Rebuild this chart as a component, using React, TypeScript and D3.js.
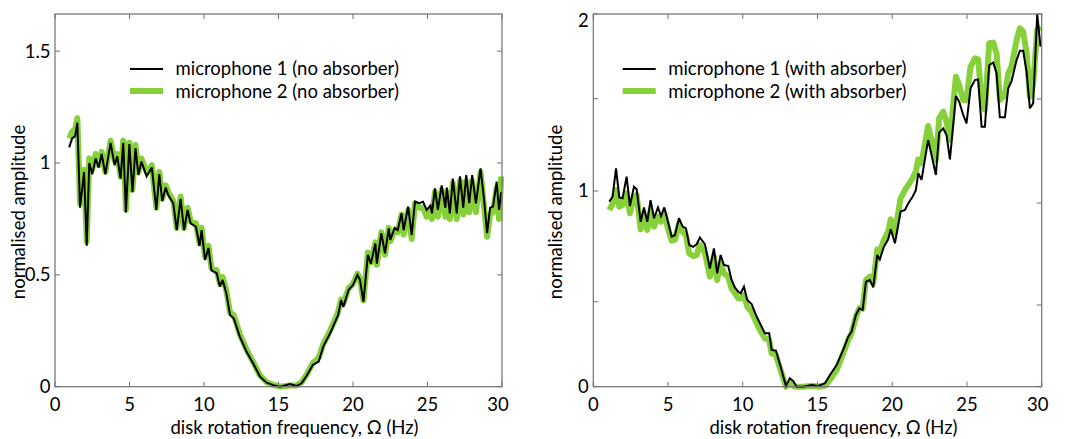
import React from 'react';
import * as d3 from 'd3';

// ---------- data ----------
const X_TICKS = [0, 5, 10, 15, 20, 25, 30];
const X_LABEL = 'disk rotation frequency, Ω (Hz)';
const Y_LABEL = 'normalised amplitude';

const Y_TICKS_L = [0, 0.5, 1, 1.5];
const Y_TICK_LABELS_L = ['0', '0.5', '1', '1.5'];
const Y_TICKS_R = [0, 0.5, 1, 1.5, 2];
const Y_TICK_LABELS_R = ['0', '', '1', '', '2'];

const LEGEND_L = ['microphone 1 (no absorber)', 'microphone 2 (no absorber)'];
const LEGEND_R = ['microphone 1 (with absorber)', 'microphone 2 (with absorber)'];

const FREQ_L = [
  0.95, 1.15, 1.35, 1.5, 1.68, 1.95, 2.13, 2.3, 2.5, 2.73,
  2.93, 3.13, 3.38, 3.73, 4.0, 4.18, 4.4, 4.58, 4.76, 4.99,
  5.2, 5.4, 5.6, 5.8, 6.15, 6.5, 6.8, 7.0, 7.2, 7.43,
  7.6, 7.94, 8.17, 8.43, 8.66, 8.9, 9.1, 9.46, 9.7, 9.84,
  10.07, 10.3, 10.5, 10.85, 11.07, 11.25, 11.5, 11.75, 12.0, 12.4,
  12.86, 13.3, 13.76, 14.2, 14.65, 15.1, 15.77, 16.2, 16.55, 16.9,
  17.3, 17.7, 18.0, 18.46, 18.8, 19.0, 19.2, 19.35, 19.7, 20.0,
  20.3, 20.47, 20.7, 21.0, 21.2, 21.5, 21.6, 21.9, 22.15, 22.4,
  22.5, 22.8, 23.0, 23.26, 23.4, 23.7, 23.94, 24.16, 24.45, 24.7,
  24.94, 25.2, 25.3, 25.5, 25.7, 25.95, 26.2, 26.3, 26.5, 26.7,
  26.96, 27.18, 27.4, 27.6, 27.8, 28.0, 28.25, 28.56, 28.8, 29.0,
  29.2, 29.4, 29.64, 29.8, 29.95,
];
const MIC1_NO = [
  1.07, 1.11, 1.12, 1.18, 0.80, 0.96, 0.63, 1.00, 0.95, 1.02,
  0.98, 1.04, 0.95, 1.09, 0.99, 1.03, 0.93, 1.09, 0.78, 1.085,
  0.87, 1.066, 0.946, 1.006, 0.94, 0.98, 0.79, 0.95, 0.83, 0.89,
  0.857, 0.82, 0.70, 0.84, 0.70, 0.79, 0.73, 0.715, 0.63, 0.70,
  0.566, 0.62, 0.52, 0.507, 0.447, 0.477, 0.417, 0.32, 0.305, 0.224,
  0.156, 0.104, 0.045, 0.018, 0.007, 0.0, 0.012, 0.003, 0.015, 0.05,
  0.097, 0.112, 0.179, 0.238, 0.29, 0.32, 0.387, 0.357, 0.432, 0.455,
  0.50, 0.477, 0.38, 0.589, 0.55, 0.64, 0.55, 0.686, 0.596, 0.708,
  0.656, 0.71, 0.70, 0.775, 0.70, 0.805, 0.678, 0.827, 0.82, 0.827,
  0.79, 0.81, 0.775, 0.887, 0.79, 0.90, 0.80, 0.89, 0.775, 0.93,
  0.775, 0.94, 0.80, 0.946, 0.82, 0.946, 0.82, 0.976, 0.835, 0.686,
  0.80, 0.805, 0.917, 0.79, 0.87,
];
const MIC2_NO = [
  1.11, 1.14, 1.15, 1.20, 0.82, 0.97, 0.65, 1.02, 0.97, 1.04,
  0.99, 1.05, 0.96, 1.10, 1.01, 1.04, 0.94, 1.10, 0.79, 1.09,
  0.88, 1.08, 0.96, 1.02, 0.96, 0.99, 0.80, 0.96, 0.84, 0.90,
  0.87, 0.83, 0.71, 0.85, 0.71, 0.80, 0.74, 0.73, 0.64, 0.71,
  0.58, 0.63, 0.53, 0.52, 0.46, 0.49, 0.43, 0.33, 0.32, 0.235,
  0.165, 0.11, 0.05, 0.02, 0.008, 0.0, 0.005, 0.005, 0.02, 0.055,
  0.105, 0.13, 0.19, 0.25, 0.30, 0.335, 0.39, 0.37, 0.44, 0.46,
  0.505, 0.48, 0.385, 0.60, 0.555, 0.645, 0.545, 0.69, 0.59, 0.71,
  0.65, 0.70, 0.69, 0.77, 0.68, 0.79, 0.66, 0.82, 0.80, 0.80,
  0.76, 0.79, 0.75, 0.87, 0.76, 0.88, 0.76, 0.87, 0.75, 0.91,
  0.75, 0.92, 0.77, 0.92, 0.78, 0.92, 0.78, 0.96, 0.80, 0.67,
  0.77, 0.78, 0.89, 0.75, 0.94,
];

const FREQ_R = [
  1.07, 1.29, 1.52, 1.74, 1.96, 2.23, 2.45, 2.72, 2.9, 3.17,
  3.39, 3.61, 3.83, 4.06, 4.33, 4.53, 4.75, 5.02, 5.24, 5.46,
  5.73, 5.98, 6.2, 6.42, 6.69, 6.91, 7.13, 7.47, 7.8, 8.07,
  8.29, 8.52, 8.74, 9.03, 9.25, 9.48, 9.7, 9.86, 10.08, 10.3,
  10.59, 10.88, 11.15, 11.48, 11.77, 11.93, 12.22, 12.53, 12.89, 13.15,
  13.38, 13.6, 14.05, 14.6, 15.05, 15.5, 15.83, 16.28, 16.72, 17.06,
  17.28, 17.57, 17.8, 18.02, 18.24, 18.5, 18.73, 19.0, 19.17, 19.44,
  19.73, 19.9, 20.18, 20.56, 20.85, 21.07, 21.36, 21.58, 21.74, 21.96,
  22.4, 22.63, 22.92, 23.14, 23.41, 23.63, 23.86, 24.26, 24.48, 24.75,
  24.97, 25.24, 25.53, 25.75, 25.98, 26.2, 26.49, 26.76, 26.98, 27.2,
  27.54, 27.76, 27.98, 28.32, 28.54, 28.76, 28.99, 29.21, 29.43, 29.7,
  29.92,
];
const MIC1_WITH = [
  0.952, 0.974, 1.123, 0.971, 0.967, 1.078, 0.932, 1.023, 1.01, 0.861,
  0.926, 0.861, 0.959, 0.877, 0.926, 0.887, 0.926, 0.854, 0.794, 0.80,
  0.877, 0.839, 0.831, 0.756, 0.748, 0.759, 0.79, 0.759, 0.65, 0.741,
  0.628, 0.711, 0.666, 0.661, 0.598, 0.563, 0.545, 0.538, 0.568, 0.508,
  0.486, 0.422, 0.373, 0.314, 0.314, 0.216, 0.212, 0.118, 0.004, 0.049,
  0.033, 0.0, 0.0, 0.01, 0.004, 0.02, 0.069, 0.127, 0.216, 0.294,
  0.324, 0.422, 0.461, 0.451, 0.59, 0.598, 0.565, 0.711, 0.691, 0.748,
  0.782, 0.827, 0.764, 0.907, 0.914, 0.944, 0.974, 1.005, 1.096, 1.06,
  1.276, 1.195, 1.087, 1.316, 1.339, 1.303, 1.171, 1.516, 1.484, 1.412,
  1.366, 1.561, 1.61, 1.614, 1.348, 1.348, 1.699, 1.713, 1.65, 1.399,
  1.399, 1.561, 1.604, 1.728, 1.783, 1.783, 1.659, 1.448, 1.475, 2.0,
  1.807,
];
const MIC2_WITH = [
  0.914, 0.941, 1.005, 0.929, 0.937, 0.99, 0.899, 0.974, 0.982, 0.827,
  0.892, 0.824, 0.914, 0.839, 0.884, 0.861, 0.899, 0.824, 0.776, 0.779,
  0.851, 0.816, 0.80, 0.718, 0.706, 0.711, 0.756, 0.721, 0.613, 0.703,
  0.598, 0.673, 0.628, 0.613, 0.56, 0.538, 0.515, 0.515, 0.53, 0.47,
  0.441, 0.382, 0.333, 0.284, 0.275, 0.196, 0.186, 0.098, 0.0, 0.02,
  0.004, 0.0, 0.0, 0.005, 0.0, 0.005, 0.04, 0.098, 0.196, 0.275,
  0.314, 0.412, 0.461, 0.461, 0.598, 0.613, 0.583, 0.736, 0.726, 0.779,
  0.816, 0.872, 0.809, 0.967, 1.005, 1.032, 1.069, 1.105, 1.171, 1.15,
  1.352, 1.276, 1.168, 1.393, 1.43, 1.375, 1.276, 1.63, 1.58, 1.493,
  1.493, 1.689, 1.738, 1.732, 1.493, 1.44, 1.827, 1.831, 1.768, 1.493,
  1.52, 1.65, 1.689, 1.846, 1.915, 1.896, 1.768, 1.512, 1.59, 1.905,
  1.925,
];

// ---------- style ----------
const W = 1067;
const H = 439;
const FONT = 'Lato, "Open Sans", sans-serif';
const FS = 18.5;
const GREEN = '#86d03a';
const AXIS = '#707070';
const TEXT = '#000';
const TOP = 14;
const BOTTOM = 386.7;
const TICK = 5;

type PanelProps = {
  freq: number[];
  s1: number[];
  s2: number[];
  x0: number;
  x1: number;
  y: (v: number) => number;
  yRight: (v: number) => number;
  yTicks: number[];
  yTickLabels: string[];
  legend: string[];
  legendX: number;
  yLabelX: number;
};

function Panel(p: PanelProps) {
  const x = d3.scaleLinear().domain([0, 30]).range([p.x0, p.x1]);
  const line = d3
    .line<number>()
    .x((_, i) => x(p.freq[i]))
    .y((d) => p.y(d))
    .curve(d3.curveLinear);
  const cx = (p.x0 + p.x1) / 2;
  return (
    <g>
      {/* data */}
      <path d={line(p.s2) || ''} fill="none" stroke={GREEN} strokeWidth={6} strokeLinejoin="round" strokeLinecap="butt" />
      <path d={line(p.s1) || ''} fill="none" stroke="#000" strokeWidth={2} strokeLinejoin="miter" strokeMiterlimit={3} />
      {/* frame */}
      <rect x={p.x0} y={TOP} width={p.x1 - p.x0} height={BOTTOM - TOP} fill="none" stroke={AXIS} strokeWidth={1.2} />
      {/* x ticks */}
      {X_TICKS.map((t) => (
        <g key={'xt' + t}>
          <line x1={x(t)} x2={x(t)} y1={BOTTOM} y2={BOTTOM - TICK} stroke={AXIS} strokeWidth={1} />
          <line x1={x(t)} x2={x(t)} y1={TOP} y2={TOP + TICK} stroke={AXIS} strokeWidth={1} />
          <text
            x={Math.min(x(t), p.x1 - 4)}
            y={411}
            textAnchor="middle"
            fontFamily={FONT}
            fontSize={FS}
            fill={TEXT}
          >
            {t}
          </text>
        </g>
      ))}
      {/* y ticks */}
      {p.yTicks.map((t, i) => (
        <g key={'yt' + t}>
          <line x1={p.x0} x2={p.x0 + TICK} y1={p.y(t)} y2={p.y(t)} stroke={AXIS} strokeWidth={1} />
          <line x1={p.x1} x2={p.x1 - TICK} y1={p.yRight(t)} y2={p.yRight(t)} stroke={AXIS} strokeWidth={1} />
          <text
            x={p.x0 - 4.5}
            y={Math.max(p.y(t), TOP + 7)}
            dy="0.35em"
            textAnchor="end"
            fontFamily={FONT}
            fontSize={FS}
            fill={TEXT}
          >
            {p.yTickLabels[i]}
          </text>
        </g>
      ))}
      {/* axis labels */}
      <text x={cx + 16} y={433.5} textAnchor="middle" fontFamily={FONT} fontSize={FS} fill={TEXT}>
        {X_LABEL}
      </text>
      <text
        transform={`translate(${p.yLabelX},212) rotate(-90)`}
        textAnchor="middle"
        dy="0.35em"
        fontFamily={FONT}
        fontSize={FS}
        fill={TEXT}
      >
        {Y_LABEL}
      </text>
      {/* legend */}
      <line x1={p.legendX} x2={p.legendX + 33} y1={69} y2={69} stroke="#000" strokeWidth={2} />
      <line x1={p.legendX} x2={p.legendX + 33} y1={91} y2={91} stroke={GREEN} strokeWidth={6} />
      <text x={p.legendX + 45.5} y={75} fontFamily={FONT} fontSize={FS} fill={TEXT}>
        {p.legend[0]}
      </text>
      <text x={p.legendX + 45.5} y={97.5} fontFamily={FONT} fontSize={FS} fill={TEXT}>
        {p.legend[1]}
      </text>
    </g>
  );
}

export default function App() {
  const yL = d3.scaleLinear().domain([0, 1.666]).range([BOTTOM, TOP]);
  const yR = d3.scaleLinear().domain([0, 0.5, 1, 1.5, 2]).range([BOTTOM, 301.7, 191, 98.7, TOP]);
  const yRRight = d3.scaleLinear().domain([0, 0.5, 1, 1.5, 2]).range([BOTTOM, 305, 203, 99, TOP]);
  return (
    <svg
      width={W}
      height={H}
      viewBox={`0 0 ${W} ${H}`}
      style={{ position: 'absolute', left: 0, top: 0, background: '#fff' }}
    >
      <rect x={0} y={0} width={W} height={H} fill="#fff" />
      <Panel
        freq={FREQ_L}
        s1={MIC1_NO}
        s2={MIC2_NO}
        x0={55}
        x1={502}
        y={yL}
        yRight={yL}
        yTicks={Y_TICKS_L}
        yTickLabels={Y_TICK_LABELS_L}
        legend={LEGEND_L}
        legendX={130}
        yLabelX={18.5}
      />
      <Panel
        freq={FREQ_R}
        s1={MIC1_WITH}
        s2={MIC2_WITH}
        x0={593.3}
        x1={1041.7}
        y={yR}
        yRight={yRRight}
        yTicks={Y_TICKS_R}
        yTickLabels={Y_TICK_LABELS_R}
        legend={LEGEND_R}
        legendX={622.7}
        yLabelX={556}
      />
    </svg>
  );
}
